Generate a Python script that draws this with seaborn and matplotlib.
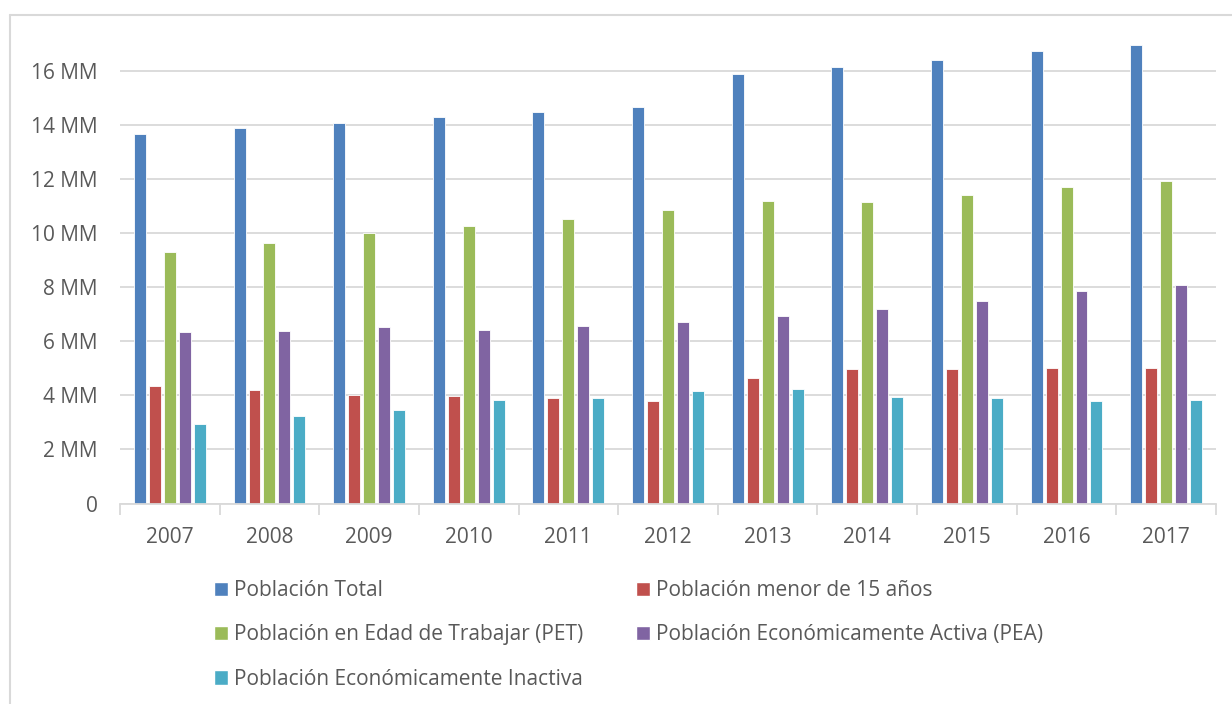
import pandas as pd
import numpy as np
import seaborn as sns
import matplotlib.pyplot as plt
from matplotlib.patches import Patch
from matplotlib.lines import Line2D
from matplotlib.ticker import FuncFormatter, FixedLocator

# datos (millones de personas)
anios = ['2007', '2008', '2009', '2010', '2011', '2012', '2013', '2014', '2015', '2016', '2017']
series = ['Población Total', 'Población menor de 15 años', 'Población en Edad de Trabajar (PET)',
          'Población Económicamente Activa (PEA)', 'Población Económicamente Inactiva']
total = [13.67, 13.88, 14.08, 14.29, 14.48, 14.68, 15.88, 16.15, 16.41, 16.73, 16.98]
menor15 = [4.35, 4.21, 4.02, 3.97, 3.91, 3.80, 4.65, 4.97, 4.98, 5.00, 5.01]
pet = [9.30, 9.63, 10.02, 10.28, 10.52, 10.86, 11.19, 11.15, 11.40, 11.70, 11.93]
pea = [6.33, 6.37, 6.54, 6.41, 6.56, 6.70, 6.93, 7.18, 7.49, 7.86, 8.08]
inactiva = [2.95, 3.24, 3.45, 3.84, 3.92, 4.15, 4.23, 3.95, 3.89, 3.80, 3.82]
colores = ['#4f81bd', '#c0504d', '#9bbb59', '#8064a2', '#4bacc6']

df = pd.DataFrame({'anio': anios, series[0]: total, series[1]: menor15, series[2]: pet,
                   series[3]: pea, series[4]: inactiva})
df_largo = df.melt(id_vars='anio', var_name='serie', value_name='valor')

sns.set_theme(style='white')
plt.rcParams['font.family'] = ['Open Sans', 'DejaVu Sans']
gris = '#595959'

fig = plt.figure(figsize=(12.32, 7.04), dpi=100)
ax = fig.add_axes([120 / 1232, 200.5 / 704, 1096 / 1232, 472.9 / 704])

sns.barplot(data=df_largo, x='anio', y='valor', hue='serie', hue_order=series,
            palette=colores, width=0.75, gap=0.2, edgecolor='white', linewidth=0.6,
            saturation=1, ax=ax)

ax.set_ylim(0, 17.5)
ax.set_xlim(-0.5, len(anios) - 0.5)
ax.set_yticks(np.arange(0, 17, 2))
ax.yaxis.set_major_formatter(FuncFormatter(lambda v, p: '0' if v == 0 else f'{int(v)} MM'))
ax.grid(axis='y', color='#d9d9d9', linewidth=1.3)
ax.set_axisbelow(True)
for s in ['top', 'right', 'left']:
    ax.spines[s].set_visible(False)
ax.spines['bottom'].set_color('#d9d9d9')
ax.spines['bottom'].set_linewidth(1.3)
ax.set_xlabel('')
ax.set_ylabel('')
ax.tick_params(axis='y', length=0, pad=16, labelsize=15, labelcolor=gris)
ax.tick_params(axis='x', which='major', length=0, pad=17, labelsize=15, labelcolor=gris)
ax.xaxis.set_minor_locator(FixedLocator(np.arange(-0.5, len(anios), 1)))
ax.tick_params(axis='x', which='minor', length=8, width=1.3, color='#d9d9d9', bottom=True)

ax.get_legend().remove()
manejadores = [Patch(facecolor=c) for c in colores]
orden = [0, 2, 4, 1, 3]
fig.legend([manejadores[i] for i in orden], [series[i] for i in orden], ncol=2,
           loc='upper left', bbox_to_anchor=(214 / 1232, 1 - 580 / 704), frameon=False,
           fontsize=15, labelcolor=gris, handlelength=0.68, handleheight=0.68,
           handletextpad=0.3, labelspacing=1.12, columnspacing=2.5, borderpad=0,
           borderaxespad=0)

# borde del area del grafico
fig.add_artist(Line2D([10 / 1232, 10 / 1232], [0, 1 - 15 / 704], color='#d9d9d9', lw=1.5))
fig.add_artist(Line2D([10 / 1232, 1], [1 - 15 / 704, 1 - 15 / 704], color='#d9d9d9', lw=1.5))

fig.savefig('out.png', dpi=100)
